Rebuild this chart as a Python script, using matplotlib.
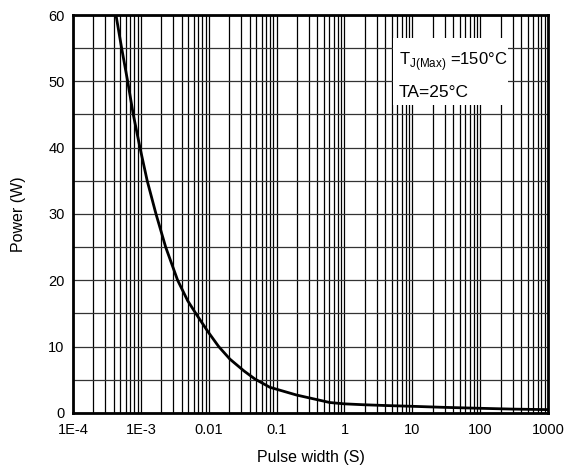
import matplotlib
matplotlib.use("Agg")
import matplotlib.pyplot as plt
from matplotlib.ticker import LogLocator, FixedLocator, NullFormatter, MultipleLocator

plt.rcParams['font.family'] = ['Liberation Sans', 'DejaVu Sans']
plt.rcParams['mathtext.fontset'] = 'custom'
plt.rcParams['mathtext.rm'] = 'Liberation Sans'

# Data
pulse_width = [4.30e-4, 5.21e-4, 6.39e-4, 7.73e-4, 9.70e-4, 1.24e-3, 1.67e-3,
               2.32e-3, 3.48e-3, 4.9e-3, 6.63e-3, 9.8e-3, 0.0140, 0.0205,
               0.0332, 0.0479, 0.0796, 0.197, 0.61, 1.0, 1.88, 4.0, 10.0,
               30.0, 100.0, 300.0, 1000.0]
power = [60.0, 55.0, 50.0, 45.0, 40.0, 35.0, 30.0,
         25.0, 20.0, 16.9, 14.8, 12.2, 10.0, 8.1,
         6.3, 5.1, 3.85, 2.68, 1.55, 1.35, 1.22, 1.1, 0.98,
         0.82, 0.68, 0.56, 0.48]

x_ticks = [1e-4, 1e-3, 0.01, 0.1, 1, 10, 100, 1000]
x_labels = ['1E-4', '1E-3', '0.01', '0.1', '1', '10', '100', '1000']
y_ticks = [0, 10, 20, 30, 40, 50, 60]

fig = plt.figure(figsize=(5.65, 4.74), dpi=100)
ax = fig.add_axes([0.1292, 0.1291, 0.8408, 0.8392])

ax.set_xscale('log')
ax.set_xlim(1e-4, 1000)
ax.set_ylim(0, 60)

ax.xaxis.set_major_locator(FixedLocator(x_ticks))
ax.set_xticklabels(x_labels)
ax.xaxis.set_minor_locator(LogLocator(base=10, subs=range(2, 10), numticks=100))
ax.xaxis.set_minor_formatter(NullFormatter())
ax.yaxis.set_major_locator(FixedLocator(y_ticks))
ax.yaxis.set_minor_locator(MultipleLocator(5))

ax.grid(True, which='both', axis='x', color='black', linewidth=0.9)
ax.grid(True, which='both', axis='y', color='#333333', linewidth=0.9)
ax.set_axisbelow(True)

ax.tick_params(which='both', length=0, labelsize=10.5, colors='black')
ax.tick_params(axis='x', pad=7)
ax.tick_params(axis='y', pad=6)

for s in ax.spines.values():
    s.set_linewidth(2.0)
    s.set_color('black')

ax.plot(pulse_width, power, color='black', linewidth=2.0, zorder=3)

ax.set_xlabel('Pulse width (S)', fontsize=11.5, labelpad=10)
ax.set_ylabel('Power (W)', fontsize=11.5, labelpad=16)

# annotation box
ax.add_patch(plt.Rectangle((0.674, 0.774), 0.242, 0.168, transform=ax.transAxes,
                           facecolor='white', edgecolor='none', zorder=4))
ax.text(0.686, 0.874, r'T$_{\mathregular{J(Max)}}$ =150°C',
        transform=ax.transAxes, fontsize=12, va='baseline', ha='left', zorder=5)
ax.text(0.686, 0.794, 'TA=25°C',
        transform=ax.transAxes, fontsize=12.5, va='baseline', ha='left', zorder=5)

fig.savefig('out.png', dpi=100)
